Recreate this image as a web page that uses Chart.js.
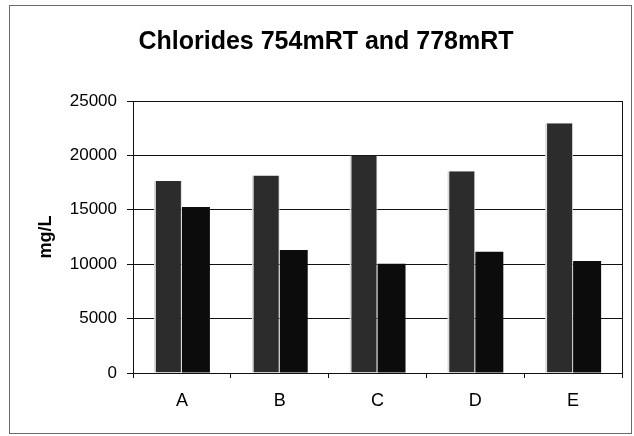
<!DOCTYPE html>
<html>
<head>
<meta charset="utf-8">
<script src="https://cdn.jsdelivr.net/npm/chart.js@4/dist/chart.umd.min.js"></script>
<style>
    html, body { margin: 0; padding: 0; background: #fff; }
    #wrap { width: 634px; height: 436px; }
</style>
</head>
<body>
<div id="wrap"><canvas id="chloridesPlot"></canvas></div>
<script>
// Chloride results per sample
var sites = ['A', 'B', 'C', 'D', 'E'];
var chlorides754 = [17650, 18150, 20000, 18550, 22950];
var chlorides778 = [15250, 11300, 10050, 11150, 10300];
var yTicks = [0, 5000, 10000, 15000, 20000, 25000];

var fontFamily = '"Liberation Sans", Arial, Helvetica, sans-serif';

// Outer frame and plot area box
var framePlugin = {
    id: 'frame',
    beforeDraw: function(chart) {
        var ctx = chart.ctx;
        ctx.save();
        ctx.fillStyle = '#fff';
        ctx.fillRect(0, 0, chart.width, chart.height);
        ctx.strokeStyle = '#6a6a6a';
        ctx.lineWidth = 1;
        ctx.strokeRect(9.5, 5.5, chart.width - 12, chart.height - 8);
        ctx.restore();
    },
    afterDraw: function(chart) {
        var a = chart.chartArea;
        var ctx = chart.ctx;
        ctx.save();
        ctx.strokeStyle = '#111';
        ctx.lineWidth = 1;
        ctx.strokeRect(Math.round(a.left) + 0.5, Math.round(a.top) + 0.5,
                       Math.round(a.right - a.left), Math.round(a.bottom - a.top));
        ctx.restore();
    }
};

new Chart(document.getElementById('chloridesPlot'), {
    type: 'bar',
    data: {
        labels: sites,
        datasets: [{
            label: '754mRT',
            data: chlorides754,
            backgroundColor: '#2c2c2c',
            borderColor: '#dcdcdc',
            borderWidth: {left: 2, right: 1, top: 0, bottom: 0},
            borderSkipped: false
        }, {
            label: '778mRT',
            data: chlorides778,
            backgroundColor: '#0c0c0c',
            borderWidth: 0
        }]
    },
    options: {
        responsive: true,
        maintainAspectRatio: false,
        animation: false,
        devicePixelRatio: 1,
        layout: {
            padding: {left: 30, right: 12, top: 0, bottom: 0}
        },
        datasets: {
            bar: {
                categoryPercentage: 0.573,
                barPercentage: 1.0
            }
        },
        plugins: {
            legend: { display: false },
            tooltip: { enabled: false },
            title: {
                display: true,
                text: 'Chlorides 754mRT and 778mRT',
                color: '#000',
                font: { family: fontFamily, size: 25, weight: 'bold' },
                padding: { top: 27, bottom: 44 }
            }
        },
        scales: {
            x: {
                grid: {
                    display: true,
                    offset: true,
                    drawOnChartArea: false,
                    drawTicks: true,
                    tickLength: 5,
                    color: '#111'
                },
                border: { display: true, color: '#111' },
                ticks: {
                    color: '#000',
                    padding: 12,
                    font: { family: fontFamily, size: 18 }
                },
                afterFit: function(axis) {
                    axis.height = 63;
                }
            },
            y: {
                min: 0,
                max: 25000,
                afterBuildTicks: function(axis) {
                    axis.ticks = yTicks.map(function(v) { return {value: v}; });
                },
                grid: {
                    color: '#111',
                    lineWidth: 1,
                    tickLength: 6
                },
                border: { display: true, color: '#111' },
                ticks: {
                    color: '#000',
                    padding: 10,
                    font: { family: fontFamily, size: 17 },
                    callback: function(value) { return String(value); }
                },
                title: {
                    display: true,
                    text: 'mg/L',
                    color: '#000',
                    font: { family: fontFamily, size: 18, weight: 'bold' },
                    padding: { top: 5, bottom: 0 }
                },
                afterFit: function(axis) {
                    axis.width = 103;
                }
            }
        }
    },
    plugins: [framePlugin]
});
</script>
</body>
</html>
